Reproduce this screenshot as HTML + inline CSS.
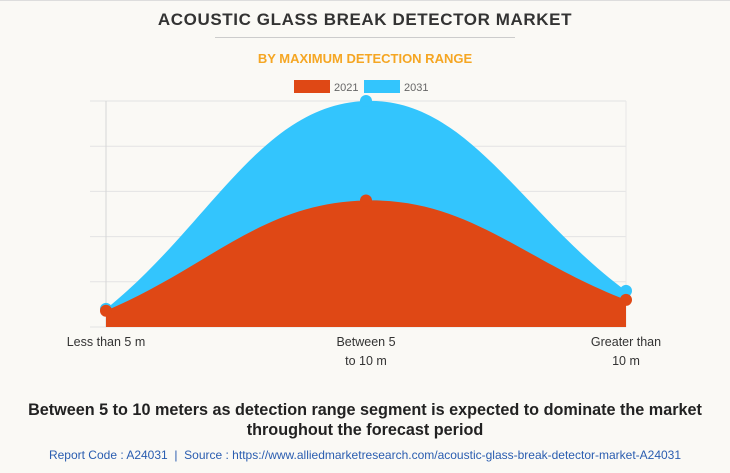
<!DOCTYPE html>
<html><head><meta charset="utf-8"><style>
body{margin:0;width:730px;height:473px;background:#faf9f5;font-family:"Liberation Sans",sans-serif;overflow:hidden;position:relative}
.t{position:absolute;left:0;width:730px;text-align:center}
</style></head><body>
<div style="position:absolute;left:0;top:0;width:730px;height:1px;background:#ddd"></div>
<div class="t" style="top:10px;font-size:17px;font-weight:bold;color:#333;letter-spacing:0.6px">ACOUSTIC GLASS BREAK DETECTOR MARKET</div>
<div style="position:absolute;left:215px;top:37px;width:300px;height:1px;background:#ccc"></div>
<div class="t" style="top:51px;font-size:13px;font-weight:bold;color:#f5a623">BY MAXIMUM DETECTION RANGE</div>
<svg width="730" height="473" style="position:absolute;left:0;top:0">
<g id="grid"></g><g id="areas"></g><g id="leg"></g><g id="xl"></g>
</svg>
<div class="t" style="top:400px;font-size:16.2px;font-weight:bold;color:#222;line-height:20px">Between 5 to 10 meters as detection range segment is expected to dominate the market<br>throughout the forecast period</div>
<div class="t" style="top:448px;font-size:12px;color:#2a5db0">Report Code : A24031 &nbsp;|&nbsp; Source : https://www.alliedmarketresearch.com/acoustic-glass-break-detector-market-A24031</div>
<script>
const categories=[["Less than 5 m"],["Between 5","to 10 m"],["Greater than","10 m"]];
const series2021=[18,140,30];
const series2031=[20,250,40];
const yTicks=[0,50,100,150,200,250];
const NS="http://www.w3.org/2000/svg";
const L=106,R=626,T=101,B=327,YMAX=250;
const x=i=>L+i*(R-L)/(categories.length-1);
const y=v=>B-v/YMAX*(B-T);
function mk(tag,at,parent){const e=document.createElementNS(NS,tag);for(const k in at)e.setAttribute(k,at[k]);parent.appendChild(e);return e;}
const grid=document.getElementById('grid');
yTicks.forEach(v=>{const l=mk('line',{x1:90,x2:R,y1:y(v),y2:y(v),stroke:'#e3e3e3','stroke-width':1},grid);

});
const ax=mk('line',{x1:L,x2:L,y1:T,y2:B,stroke:'#d6d6d6'},grid);


const rx=mk('line',{x1:R,x2:R,y1:T,y2:B,stroke:'#e8e8e8'},grid);


function path(vals){const p=vals.map((v,i)=>[x(i),y(v)]);const t=0.4;const cps=p.map((c,i)=>{const pr=p[Math.max(0,i-1)],nx=p[Math.min(p.length-1,i+1)];
const d01=Math.hypot(c[0]-pr[0],c[1]-pr[1]),d12=Math.hypot(nx[0]-c[0],nx[1]-c[1]);const s=d01+d12||1;const fa=t*d01/s,fb=t*d12/s;
return{a:[c[0]-fa*(nx[0]-pr[0]),c[1]-fa*(nx[1]-pr[1])],b:[c[0]+fb*(nx[0]-pr[0]),c[1]+fb*(nx[1]-pr[1])]};});
let d=`M${p[0][0]},${B}L${p[0][0]},${p[0][1]}`;
for(let i=1;i<p.length;i++){d+=`C${cps[i-1].b[0]},${cps[i-1].b[1]} ${cps[i].a[0]},${cps[i].a[1]} ${p[i][0]},${p[i][1]}`;}
return d+`L${p[p.length-1][0]},${B}Z`;}
const areas=document.getElementById('areas');
[[series2031,'#33c5fd','2031'],[series2021,'#df4815','2021']].forEach(([vals,c,n])=>{
const a=mk('path',{d:path(vals),fill:c},areas);


vals.forEach((v,i)=>{const pt=mk('circle',{cx:x(i),cy:y(v),r:6,fill:c},areas);

});});
const leg=document.getElementById('leg');
[['#df4815','2021',294],['#33c5fd','2031',364]].forEach(([c,n,lx])=>{
const r=mk('rect',{x:lx,y:80,width:36,height:13,fill:c},leg);


const tx=mk('text',{x:lx+40,y:91,'font-size':11,fill:'#666'},leg);tx.textContent=n;

});
const xl=document.getElementById('xl');
categories.forEach((lines,i)=>lines.forEach((s,j)=>{const tx=mk('text',{x:x(i),y:346+j*19,'font-size':12.5,fill:'#333','text-anchor':'middle'},xl);tx.textContent=s;

}));
</script>
</body></html>
